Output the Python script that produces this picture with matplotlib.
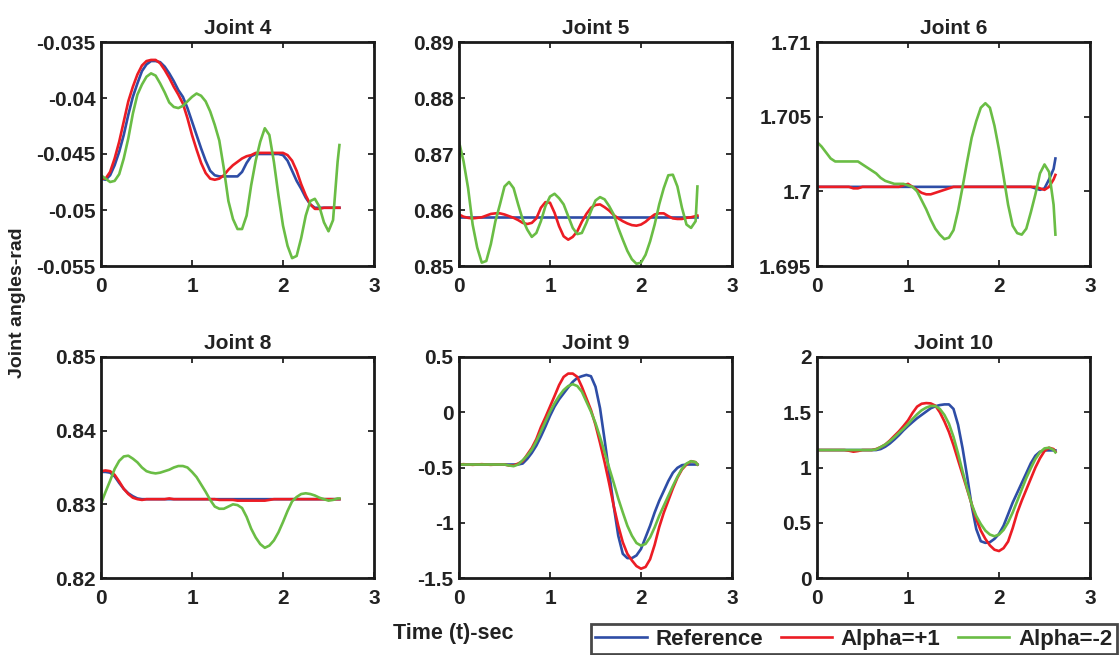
import numpy as np
import matplotlib
matplotlib.use("Agg")
import matplotlib.pyplot as plt
from matplotlib.ticker import FuncFormatter

plt.rcParams['font.family'] = ['Liberation Sans', 'DejaVu Sans']
plt.rcParams['font.weight'] = 'bold'
plt.rcParams['axes.unicode_minus'] = False

# time grid (s)
t = np.append(np.round(np.arange(0, 2.601, 0.05), 2), 2.62)

titles = ["Joint 4", "Joint 5", "Joint 6", "Joint 8", "Joint 9", "Joint 10"]
series_names = ["Reference", "Alpha=+1", "Alpha=-2"]

j4_ref = [-0.0472, -0.0473, -0.0469, -0.0460, -0.0448, -0.0433, -0.0415, -0.0399, -0.0387, -0.0376,
          -0.0370, -0.0367, -0.0367, -0.0368, -0.0372, -0.0378, -0.0385, -0.0393, -0.0399, -0.0409,
          -0.0421, -0.0433, -0.0445, -0.0456, -0.0465, -0.0469, -0.0470, -0.0470, -0.0470, -0.0470,
          -0.0470, -0.0466, -0.0458, -0.0452, -0.0450, -0.0450, -0.0450, -0.0450, -0.0450, -0.0450,
          -0.0451, -0.0456, -0.0465, -0.0474, -0.0481, -0.0489, -0.0495, -0.0498, -0.0498, -0.0498,
          -0.0498, -0.0498, -0.0498, -0.0498]
j4_a1 = [-0.0472, -0.0472, -0.0466, -0.0454, -0.0439, -0.0421, -0.0403, -0.0390, -0.0379, -0.0371,
         -0.0367, -0.0366, -0.0366, -0.0369, -0.0375, -0.0382, -0.0390, -0.0397, -0.0405, -0.0418,
         -0.0433, -0.0446, -0.0458, -0.0467, -0.0472, -0.0473, -0.0472, -0.0469, -0.0464, -0.0460,
         -0.0457, -0.0454, -0.0452, -0.0451, -0.0449, -0.0449, -0.0449, -0.0449, -0.0449, -0.0449,
         -0.0449, -0.0451, -0.0456, -0.0465, -0.0477, -0.0487, -0.0495, -0.0499, -0.0499, -0.0498,
         -0.0498, -0.0498, -0.0498, -0.0498]
j4_a2 = [-0.0469, -0.0472, -0.0475, -0.0474, -0.0468, -0.0454, -0.0436, -0.0414, -0.0397, -0.0388,
         -0.0381, -0.0378, -0.0380, -0.0387, -0.0395, -0.0404, -0.0408, -0.0409, -0.0407, -0.0403,
         -0.0399, -0.0396, -0.0398, -0.0403, -0.0412, -0.0424, -0.0438, -0.0463, -0.0492, -0.0508,
         -0.0517, -0.0517, -0.0505, -0.0478, -0.0456, -0.0439, -0.0427, -0.0433, -0.0457, -0.0487,
         -0.0514, -0.0532, -0.0543, -0.0541, -0.0525, -0.0505, -0.0492, -0.0490, -0.0497, -0.0511,
         -0.0519, -0.0509, -0.0457, -0.0442]

j5_ref = [0.8587] * 54
j5_a1 = [0.8592, 0.8588, 0.8586, 0.8585, 0.8586, 0.8587, 0.8590, 0.8593, 0.8594, 0.8594,
         0.8592, 0.8589, 0.8586, 0.8582, 0.8577, 0.8575, 0.8577, 0.8585, 0.8604, 0.8614,
         0.8613, 0.8595, 0.8571, 0.8553, 0.8547, 0.8552, 0.8562, 0.8579, 0.8593, 0.8604,
         0.8609, 0.8610, 0.8605, 0.8599, 0.8591, 0.8585, 0.8580, 0.8576, 0.8573, 0.8572,
         0.8574, 0.8579, 0.8586, 0.8592, 0.8594, 0.8594, 0.8589, 0.8585, 0.8584, 0.8584,
         0.8586, 0.8587, 0.8589, 0.8590]
j5_a2 = [0.8722, 0.8687, 0.8639, 0.8574, 0.8533, 0.8506, 0.8509, 0.8539, 0.8580, 0.8610,
         0.8642, 0.8650, 0.8639, 0.8610, 0.8583, 0.8565, 0.8552, 0.8559, 0.8580, 0.8607,
         0.8624, 0.8629, 0.8621, 0.8610, 0.8589, 0.8568, 0.8557, 0.8559, 0.8577, 0.8598,
         0.8617, 0.8623, 0.8619, 0.8607, 0.8592, 0.8568, 0.8547, 0.8527, 0.8512, 0.8504,
         0.8506, 0.8520, 0.8544, 0.8574, 0.8610, 0.8639, 0.8662, 0.8663, 0.8642, 0.8604,
         0.8574, 0.8568, 0.8580, 0.8642]

j6_ref = [1.7003] * 48 + [1.7002, 1.7001, 1.7002, 1.7008, 1.7015, 1.7022]
j6_a1 = [1.7003, 1.7003, 1.7003, 1.7003, 1.7003, 1.7003, 1.7003, 1.7003, 1.7002, 1.7002,
         1.7003, 1.7003, 1.7003, 1.7003, 1.7003, 1.7003, 1.7003, 1.7003, 1.7003, 1.7004,
         1.7005, 1.7003, 1.7001, 1.6999, 1.6998, 1.6998, 1.6999, 1.7000, 1.7001, 1.7002,
         1.7003, 1.7003, 1.7003, 1.7003, 1.7003, 1.7003, 1.7003, 1.7003, 1.7003, 1.7003,
         1.7003, 1.7003, 1.7003, 1.7003, 1.7003, 1.7003, 1.7003, 1.7003, 1.7003, 1.7002,
         1.7001, 1.7003, 1.7008, 1.7011]
j6_a2 = [1.7033, 1.7030, 1.7026, 1.7022, 1.7020, 1.7020, 1.7020, 1.7020, 1.7020, 1.7020,
         1.7018, 1.7016, 1.7014, 1.7012, 1.7009, 1.7007, 1.7006, 1.7005, 1.7005, 1.7005,
         1.7004, 1.7003, 1.7000, 1.6994, 1.6988, 1.6981, 1.6975, 1.6971, 1.6968, 1.6969,
         1.6974, 1.6987, 1.7003, 1.7020, 1.7036, 1.7047, 1.7056, 1.7059, 1.7056, 1.7044,
         1.7028, 1.7010, 1.6991, 1.6977, 1.6972, 1.6971, 1.6975, 1.6986, 1.6998, 1.7012,
         1.7018, 1.7013, 1.6991, 1.6971]

j8_ref = [0.8344, 0.8344, 0.8343, 0.8338, 0.8329, 0.8321, 0.8315, 0.8311, 0.8308, 0.8307] + [0.8307] * 44
j8_a1 = [0.8345, 0.8346, 0.8345, 0.8340, 0.8331, 0.8321, 0.8314, 0.8309, 0.8307, 0.8306,
         0.8307, 0.8307, 0.8307, 0.8307, 0.8307, 0.8308, 0.8307, 0.8307, 0.8307, 0.8307,
         0.8307, 0.8307, 0.8307, 0.8307, 0.8307, 0.8307, 0.8306, 0.8306, 0.8306, 0.8306,
         0.8305, 0.8305, 0.8305, 0.8305, 0.8305, 0.8305, 0.8305, 0.8306, 0.8307, 0.8307,
         0.8307, 0.8307, 0.8307, 0.8307, 0.8307, 0.8307, 0.8307, 0.8307, 0.8307, 0.8307,
         0.8307, 0.8307, 0.8307, 0.8307]
j8_a2 = [0.8301, 0.8317, 0.8332, 0.8348, 0.8359, 0.8365, 0.8366, 0.8362, 0.8357, 0.8350,
         0.8345, 0.8343, 0.8342, 0.8343, 0.8345, 0.8347, 0.8350, 0.8352, 0.8352, 0.8350,
         0.8344, 0.8337, 0.8327, 0.8317, 0.8306, 0.8297, 0.8294, 0.8294, 0.8297, 0.8300,
         0.8299, 0.8295, 0.8283, 0.8267, 0.8255, 0.8246, 0.8241, 0.8244, 0.8251, 0.8262,
         0.8276, 0.8291, 0.8304, 0.8310, 0.8314, 0.8315, 0.8314, 0.8312, 0.8309, 0.8307,
         0.8305, 0.8306, 0.8308, 0.8308]

j9_ref = [-0.473] * 14 + [-0.464, -0.422, -0.368, -0.302, -0.219, -0.129,
          -0.033, 0.051, 0.117, 0.171, 0.225, 0.275, 0.311, 0.326, 0.338, 0.326,
          0.231, 0.036, -0.249, -0.548, -0.847, -1.117, -1.281, -1.320, -1.320, -1.296,
          -1.237, -1.132, -1.027, -0.907, -0.802, -0.713, -0.623, -0.548, -0.503, -0.479,
          -0.473, -0.473, -0.473, -0.473]
j9_a1 = [-0.473, -0.470, -0.473, -0.476, -0.473, -0.470, -0.473, -0.476, -0.473, -0.473,
         -0.473, -0.482, -0.482, -0.464, -0.443, -0.383, -0.323, -0.243, -0.135, -0.045,
         0.051, 0.147, 0.246, 0.320, 0.350, 0.350, 0.320, 0.231, 0.126, 0.021,
         -0.114, -0.278, -0.452, -0.644, -0.847, -1.027, -1.177, -1.281, -1.341, -1.392,
         -1.416, -1.400, -1.330, -1.200, -1.040, -0.910, -0.800, -0.690, -0.593, -0.518,
         -0.473, -0.443, -0.452, -0.473]
j9_a2 = [-0.473] * 10 + [-0.473, -0.482, -0.488, -0.473, -0.434, -0.392, -0.338, -0.263, -0.174, -0.084,
         0.006, 0.081, 0.147, 0.201, 0.237, 0.254, 0.237, 0.186, 0.096, 0.006,
         -0.099, -0.225, -0.362, -0.503, -0.638, -0.781, -0.907, -1.027, -1.117, -1.183,
         -1.207, -1.192, -1.132, -1.042, -0.937, -0.847, -0.757, -0.668, -0.584, -0.512,
         -0.464, -0.443, -0.452, -0.473]

j10_ref = [1.158] * 14 + [1.167, 1.188, 1.217, 1.253, 1.292, 1.336,
           1.375, 1.411, 1.446, 1.476, 1.506, 1.536, 1.554, 1.565, 1.571, 1.571,
           1.530, 1.387, 1.173, 0.920, 0.652, 0.443, 0.333, 0.318, 0.324, 0.354,
           0.399, 0.473, 0.577, 0.682, 0.771, 0.860, 0.949, 1.039, 1.107, 1.143,
           1.155, 1.155, 1.155, 1.155]
j10_a1 = [1.158, 1.158, 1.158, 1.158, 1.158, 1.158, 1.158, 1.152, 1.143, 1.149,
          1.158, 1.158, 1.158, 1.167, 1.185, 1.208, 1.244, 1.286, 1.327, 1.375,
          1.426, 1.494, 1.551, 1.577, 1.583, 1.580, 1.560, 1.500, 1.417, 1.321,
          1.202, 1.068, 0.935, 0.801, 0.667, 0.533, 0.429, 0.354, 0.295, 0.256,
          0.244, 0.270, 0.330, 0.450, 0.590, 0.700, 0.800, 0.900, 1.000, 1.083,
          1.149, 1.179, 1.167, 1.143]
j10_a2 = [1.158] * 10 + [1.158, 1.158, 1.158, 1.164, 1.185, 1.208, 1.238, 1.274, 1.313, 1.351,
          1.393, 1.440, 1.482, 1.518, 1.542, 1.557, 1.557, 1.530, 1.476, 1.396,
          1.277, 1.128, 0.964, 0.810, 0.667, 0.562, 0.488, 0.429, 0.393, 0.378,
          0.393, 0.435, 0.503, 0.592, 0.696, 0.801, 0.905, 0.994, 1.077, 1.137,
          1.173, 1.179, 1.158, 1.137]

data = [
    (j4_ref, j4_a1, j4_a2),
    (j5_ref, j5_a1, j5_a2),
    (j6_ref, j6_a1, j6_a2),
    (j8_ref, j8_a1, j8_a2),
    (j9_ref, j9_a1, j9_a2),
    (j10_ref, j10_a1, j10_a2),
]

ylims = [(-0.055, -0.035), (0.85, 0.89), (1.695, 1.71), (0.82, 0.85), (-1.5, 0.5), (0, 2)]
yticks = [
    [-0.055, -0.05, -0.045, -0.04, -0.035],
    [0.85, 0.86, 0.87, 0.88, 0.89],
    [1.695, 1.7, 1.705, 1.71],
    [0.82, 0.83, 0.84, 0.85],
    [-1.5, -1, -0.5, 0, 0.5],
    [0, 0.5, 1, 1.5, 2],
]
xticks = [0, 1, 2, 3]

colors = ['#2E4DA6', '#EC1C24', '#6ABD45']
txtc = '#222222'

W, H = 1120, 655
fig = plt.figure(figsize=(W / 100, H / 100), dpi=100)

lefts = [101, 459, 817]
width = 273
rows = [(42, 266), (357, 578)]

handles = []
for i in range(6):
    r, c = divmod(i, 3)
    top, bot = rows[r]
    ax = fig.add_axes([lefts[c] / W, 1 - bot / H, width / W, (bot - top) / H])
    for k in range(3):
        h, = ax.plot(t, data[i][k], color=colors[k], lw=1.9, label=series_names[k])
        if i == 0:
            handles.append(h)
    ax.set_xlim(0, 3)
    ax.set_ylim(*ylims[i])
    ax.set_xticks(xticks)
    ax.set_yticks(yticks[i])
    ax.yaxis.set_major_formatter(FuncFormatter(lambda v, p: '%g' % round(v, 6)))
    ax.xaxis.set_major_formatter(FuncFormatter(lambda v, p: '%g' % v))
    ax.tick_params(direction='in', top=True, right=True, length=4, width=1.2,
                   labelsize=15, colors='#111111', labelcolor=txtc)
    ax.tick_params(axis='x', pad=8)
    ax.tick_params(axis='y', pad=4)
    for lab in ax.get_xticklabels() + ax.get_yticklabels():
        lab.set_fontweight('bold')
    for sp in ax.spines.values():
        sp.set_linewidth(2.0)
        sp.set_color('#1a1a1a')
    ax.set_title(titles[i], fontsize=15, fontweight='bold', pad=6, color=txtc)

fig.text(18 / W, 1 - 303 / H, 'Joint angles-rad', rotation=90, ha='center', va='center',
         fontsize=14, fontweight='bold', color=txtc)
fig.text(453 / W, 1 - 634 / H, 'Time (t)-sec', ha='center', va='center',
         fontsize=15.5, fontweight='bold', color=txtc)

leg = fig.legend(handles=handles, loc='lower left', ncol=3,
                 bbox_to_anchor=(591 / W, 1 / H, (1117 - 591) / W, (654 - 618) / H),
                 mode='expand', frameon=True, fancybox=False,
                 prop={'weight': 'bold', 'size': 16}, handlelength=2.3, handletextpad=0.4,
                 columnspacing=0.7, borderpad=0.2, borderaxespad=0)
leg.get_frame().set_edgecolor('#1a1a1a')
leg.get_frame().set_linewidth(2.0)
for txt in leg.get_texts():
    txt.set_color(txtc)

fig.savefig('out.png', dpi=100)
